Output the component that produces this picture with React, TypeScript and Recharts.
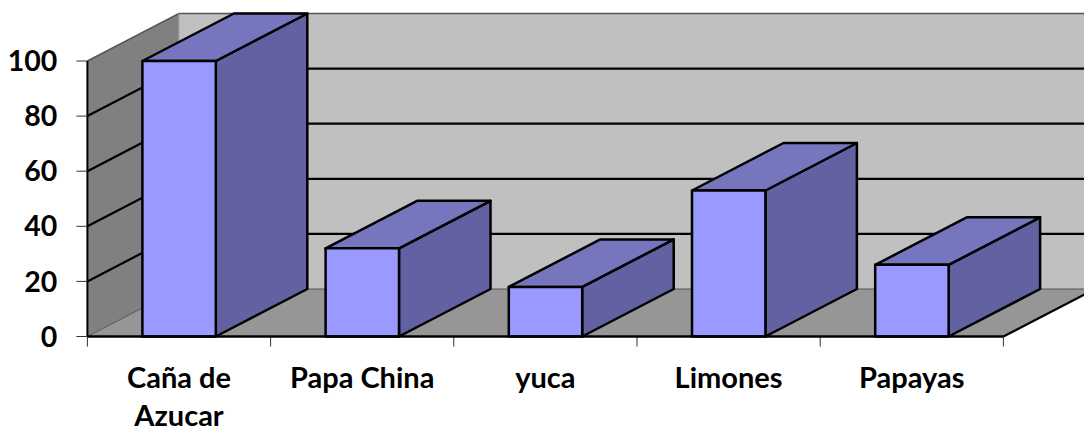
import React from 'react'
import { BarChart, Bar, XAxis, YAxis, usePlotArea } from 'recharts'

const CATEGORIES = ['Caña de Azucar', 'Papa China', 'yuca', 'Limones', 'Papayas']
const VALUES = [100, 32, 18, 53, 26]
const Y_TICKS = [0, 20, 40, 60, 80, 100]

// desplazamiento de la cara trasera (falso 3D)
const DEPTH_X = 91.5
const DEPTH_Y = -47.5
const FONT = 'Lato, sans-serif'
const CHART_W = 1084

const data = CATEGORIES.map((name, i) => ({ name, value: VALUES[i] }))

const pts = (list: number[][]) => list.map(p => p.join(',')).join(' ')

// paredes, piso, líneas de rejilla y marcas del eje X
const Walls = () => {
  const plot = usePlotArea()
  if (!plot) return null
  const { x, y, width, height } = plot
  const bottom = y + height
  const right = x + width
  const yOf = (v: number) => bottom - (v / 100) * height
  const bx = x + DEPTH_X
  return (
    <g>
      <rect x={bx} y={y + DEPTH_Y} width={CHART_W - bx} height={height} fill="#c0c0c0" />
      <polygon
        points={pts([[x, y], [bx, y + DEPTH_Y], [bx, bottom + DEPTH_Y], [x, bottom]])}
        fill="#808080"
      />
      <polygon
        points={pts([[x, bottom], [bx, bottom + DEPTH_Y], [right + DEPTH_X, bottom + DEPTH_Y], [right, bottom]])}
        fill="#969696"
      />
      {Y_TICKS.filter(t => t > 0 && t < 100).map(t => (
        <polyline
          key={t}
          points={pts([[x, yOf(t)], [bx, yOf(t) + DEPTH_Y], [CHART_W, yOf(t) + DEPTH_Y]])}
          fill="none"
          stroke="#000"
          strokeWidth={2.2}
        />
      ))}
      <polyline
        points={pts([[x, y], [bx, y + DEPTH_Y], [CHART_W, y + DEPTH_Y]])}
        fill="none"
        stroke="#555"
        strokeWidth={1.5}
      />
      <line x1={bx} y1={y + DEPTH_Y} x2={bx} y2={bottom + DEPTH_Y} stroke="#999" strokeWidth={1} />
      <polyline
        points={pts([[x, bottom], [bx, bottom + DEPTH_Y], [CHART_W, bottom + DEPTH_Y]])}
        fill="none"
        stroke="#555"
        strokeWidth={1}
      />
      <line x1={right} y1={bottom} x2={right + DEPTH_X} y2={bottom + DEPTH_Y} stroke="#000" strokeWidth={2.2} />
      {CATEGORIES.map((_, i) => i).concat(CATEGORIES.length).map(i => {
        const tx = x + (i * width) / CATEGORIES.length
        return <line key={i} x1={tx} y1={bottom} x2={tx} y2={bottom + 10} stroke="#333" strokeWidth={1} />
      })}
    </g>
  )
}

const Box3D = (props: any) => {
  const { x, y, width, height } = props
  const r = x + width
  const b = y + height
  return (
    <g stroke="#000" strokeWidth={2.5} strokeLinejoin="round">
      <polygon
        points={pts([[r, y], [r + DEPTH_X, y + DEPTH_Y], [r + DEPTH_X, b + DEPTH_Y], [r, b]])}
        fill="#6262a2"
      />
      <polygon
        points={pts([[x, y], [x + DEPTH_X, y + DEPTH_Y], [r + DEPTH_X, y + DEPTH_Y], [r, y]])}
        fill="#7676bf"
      />
      <rect x={x} y={y} width={width} height={height} fill="#9999ff" />
    </g>
  )
}

// las etiquetas largas se parten en el último espacio
const splitLabel = (label: string) => {
  const cut = label.lastIndexOf(' ')
  return label.length > 12 && cut > 0 ? [label.slice(0, cut), label.slice(cut + 1)] : [label]
}

const CategoryTick = (props: any) => {
  const { x, payload } = props
  return (
    <text x={x} y={388} textAnchor="middle" fontFamily={FONT} fontWeight={700} fontSize={29} fill="#000">
      {splitLabel(payload.value).map((line, i) => (
        <tspan key={i} x={x} dy={i === 0 ? 0 : 38}>
          {line}
        </tspan>
      ))}
    </text>
  )
}

export default function App() {
  return (
    <div style={{ position: 'absolute', left: 0, top: 0, width: 1084, height: 428, background: '#fff' }}>
      <BarChart
        width={CHART_W}
        height={428}
        data={data}
        margin={{ top: 61, right: 80.6, bottom: 0, left: 0 }}
        barSize={73.4}
      >
        <Walls />
        <XAxis
          dataKey="name"
          height={91.5}
          interval={0}
          tickLine={false}
          axisLine={{ stroke: '#000', strokeWidth: 2.5 }}
          tick={<CategoryTick />}
        />
        <YAxis
          width={87.4}
          domain={[0, 100]}
          ticks={Y_TICKS}
          tickSize={11}
          tickMargin={19}
          tickLine={{ stroke: '#333', strokeWidth: 1 }}
          axisLine={{ stroke: '#000', strokeWidth: 2 }}
          tick={{ fontFamily: FONT, fontWeight: 700, fontSize: 28.5, fill: '#000' }}
        />
        <Bar dataKey="value" shape={<Box3D />} isAnimationActive={false} />
      </BarChart>
    </div>
  )
}
